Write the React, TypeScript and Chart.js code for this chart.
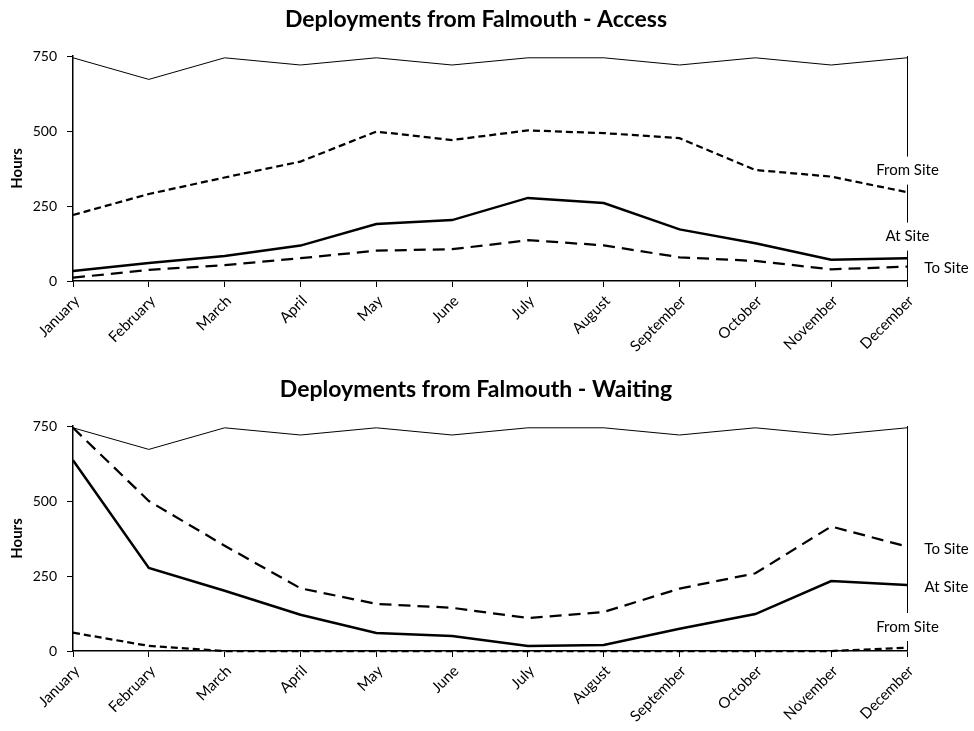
import React, { useEffect, useRef } from "react";
import { Chart, registerables } from "chart.js";
Chart.register(...registerables);

const FONT = "Lato";

const months = ["January", "February", "March", "April", "May", "June", "July", "August", "September", "October", "November", "December"];
const hoursInMonth = [744, 672, 744, 720, 744, 720, 744, 744, 720, 744, 720, 744];

const accessFromSite = [220, 290, 345, 398, 498, 470, 502, 493, 476, 370, 348, 296];
const accessAtSite = [33, 60, 83, 118, 190, 203, 277, 260, 172, 126, 71, 76];
const accessToSite = [11, 37, 53, 76, 101, 106, 136, 119, 79, 67, 39, 48];

const waitingToSite = [744, 500, 351, 209, 157, 144, 110, 130, 208, 259, 415, 348];
const waitingAtSite = [636, 277, 201, 121, 60, 50, 17, 20, 74, 123, 233, 220];
const waitingFromSite = [61, 17, 0, 0, 0, 0, 0, 0, 0, 0, 0, 11];

const yMax = 750;
const yStep = 250;

const accessLabels = ["From Site", "At Site", "To Site"];
const accessLabelValues = [368, 148, 44];
const accessLabelModes = ["on", "on", "beside"];

const waitingLabels = ["To Site", "At Site", "From Site"];
const waitingLabelValues = [338, 212, 80];
const waitingLabelModes = ["beside", "beside", "on"];

const SHORT_DASH = [7, 4];
const LONG_DASH = [12, 7];

function makeSidePlugin(names: string[], values: number[], modes: string[]) {
  return {
    id: "sideLabels",
    afterDatasetsDraw(chart: any) {
      const { ctx, chartArea, scales } = chart;
      const x = Math.round(chartArea.right) + 0.5;
      ctx.save();
      ctx.strokeStyle = "#000";
      ctx.lineWidth = 1;
      ctx.setLineDash([]);
      ctx.beginPath();
      ctx.moveTo(x, scales.y.getPixelForValue(yMax));
      ctx.lineTo(x, chartArea.bottom);
      ctx.stroke();
      ctx.font = `15px ${FONT}`;
      ctx.textBaseline = "middle";
      names.forEach((n, i) => {
        const y = scales.y.getPixelForValue(values[i]);
        const w = ctx.measureText(n).width;
        if (modes[i] === "on") {
          ctx.fillStyle = "#fff";
          ctx.fillRect(x - w / 2 - 3, y - 14, w + 6, 28);
          ctx.fillStyle = "#000";
          ctx.textAlign = "center";
          ctx.fillText(n, x, y);
        } else {
          ctx.fillStyle = "#000";
          ctx.textAlign = "center";
          ctx.fillText(n, x + 39, y);
        }
      });
      ctx.restore();
    },
  };
}

function buildConfig(title: string, sets: { data: number[]; width: number; dash: number[] }[], plugin: any) {
  return {
    type: "line" as const,
    data: {
      labels: months,
      datasets: sets.map((s) => ({
        data: s.data,
        borderColor: "#000",
        borderWidth: s.width,
        borderDash: s.dash,
        pointRadius: 0,
        tension: 0,
        fill: false,
        clip: 4,
      })),
    },
    options: {
      animation: false,
      responsive: false,
      maintainAspectRatio: false,
      layout: { padding: { left: 0, right: 22, top: 0, bottom: 0 } },
      plugins: {
        legend: { display: false },
        tooltip: { enabled: false },
        title: {
          display: true,
          text: title,
          color: "#000",
          font: { family: FONT, size: 23, weight: "bold" },
          padding: { top: 6, bottom: 22.4 },
        },
      },
      scales: {
        x: {
          type: "category",
          offset: false,
          grid: { drawOnChartArea: false, drawTicks: true, tickLength: 6, color: "#000" },
          border: { display: true, color: "#000", width: 1.5 },
          ticks: { maxRotation: 45, minRotation: 45, color: "#000", font: { family: FONT, size: 15 }, padding: 5, labelOffset: 4, autoSkip: false },
          afterFit: (s: any) => {
            s.height = 80;
          },
        },
        y: {
          min: 0,
          max: yMax,
          grid: { drawOnChartArea: false, drawTicks: true, tickLength: 6, color: "#000" },
          border: { display: true, color: "#000", width: 1.5 },
          ticks: { stepSize: yStep, color: "#000", font: { family: FONT, size: 14 }, padding: 10 },
          title: { display: true, text: "Hours", color: "#000", font: { family: FONT, size: 15, weight: "bold" }, padding: { top: 8.5, bottom: 0 } },
          afterFit: (s: any) => {
            s.width = 73;
          },
        },
        yRightSpace: {
          type: "linear",
          position: "right",
          display: true,
          grid: { display: false, drawTicks: false },
          border: { display: false },
          ticks: { display: false },
          afterFit: (s: any) => {
            s.width = 45;
          },
        },
      },
    },
    plugins: [plugin],
  };
}

function LineChart({ config, top }: { config: any; top: number }) {
  const ref = useRef<HTMLCanvasElement | null>(null);
  useEffect(() => {
    if (!ref.current) return;
    const chart = new Chart(ref.current, config);
    return () => chart.destroy();
  }, [config]);
  return (
    <canvas
      ref={ref}
      width={974}
      height={361}
      style={{ position: "absolute", left: 0, top, width: 974, height: 361, display: "block" }}
    />
  );
}

const accessConfig = buildConfig(
  "Deployments from Falmouth - Access",
  [
    { data: hoursInMonth, width: 1, dash: [] },
    { data: accessFromSite, width: 2.25, dash: SHORT_DASH },
    { data: accessAtSite, width: 2.5, dash: [] },
    { data: accessToSite, width: 2.25, dash: LONG_DASH },
  ],
  makeSidePlugin(accessLabels, accessLabelValues, accessLabelModes)
);

const waitingConfig = buildConfig(
  "Deployments from Falmouth - Waiting",
  [
    { data: hoursInMonth, width: 1, dash: [] },
    { data: waitingToSite, width: 2.25, dash: LONG_DASH },
    { data: waitingAtSite, width: 2.5, dash: [] },
    { data: waitingFromSite, width: 2.25, dash: SHORT_DASH },
  ],
  makeSidePlugin(waitingLabels, waitingLabelValues, waitingLabelModes)
);

export default function App() {
  return (
    <div style={{ position: "absolute", left: 0, top: 0, width: 974, height: 731, background: "#fff" }}>
      <LineChart config={accessConfig} top={0} />
      <LineChart config={waitingConfig} top={370} />
    </div>
  );
}
